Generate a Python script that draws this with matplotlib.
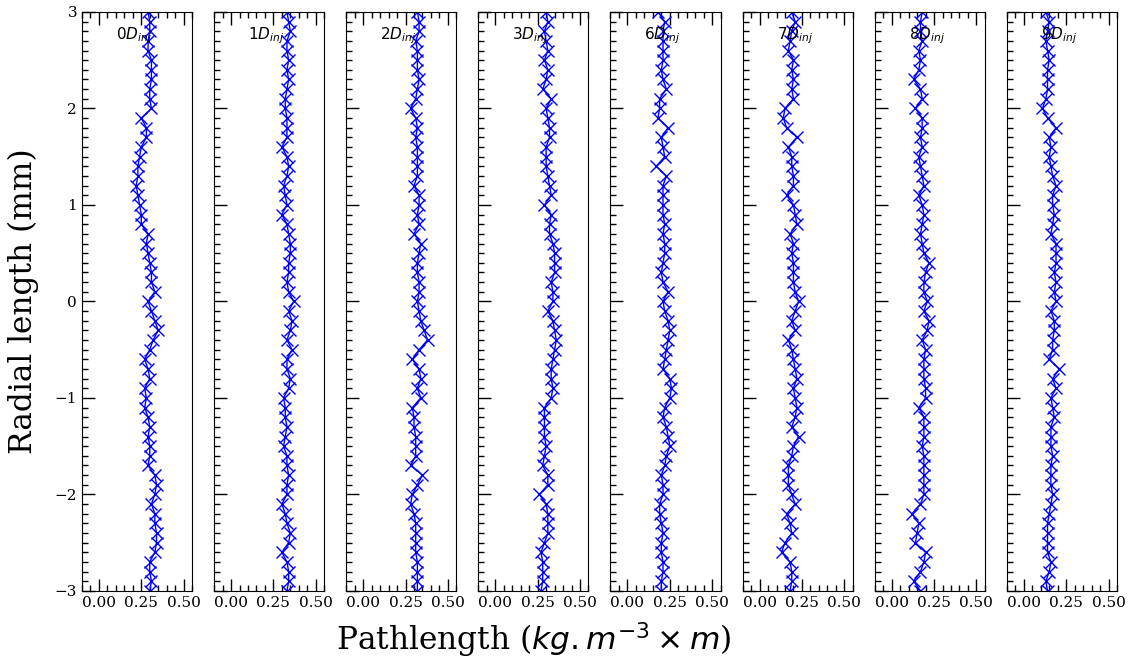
import numpy as np
import matplotlib
matplotlib.use("Agg")
import matplotlib.pyplot as plt
from matplotlib.ticker import MultipleLocator, FormatStrFormatter

radial = np.round(np.arange(3.0, -3.0001, -0.1), 1)

labels = ["0", "1", "2", "3", "6", "7", "8", "9"]

p0 = [0.29, 0.30, 0.30, 0.29, 0.29, 0.31, 0.31, 0.31, 0.30, 0.30, 0.31, 0.25, 0.28, 0.28, 0.25, 0.24,
      0.23, 0.23, 0.22, 0.23, 0.24, 0.25, 0.25, 0.29, 0.28, 0.29, 0.30, 0.31, 0.31, 0.33, 0.29,
      0.31, 0.33, 0.35, 0.32, 0.30, 0.27, 0.29, 0.30, 0.27, 0.28, 0.27, 0.29, 0.30, 0.29, 0.30,
      0.30, 0.29, 0.33, 0.34, 0.33, 0.31, 0.33, 0.33, 0.34, 0.34, 0.33, 0.30, 0.30, 0.31, 0.30]
p1 = [0.33, 0.34, 0.35, 0.33, 0.33, 0.34, 0.33, 0.34, 0.33, 0.32, 0.32, 0.33, 0.33, 0.33, 0.30, 0.33,
      0.34, 0.33, 0.31, 0.32, 0.33, 0.30, 0.33, 0.34, 0.35, 0.35, 0.34, 0.34, 0.33, 0.34, 0.37,
      0.34, 0.36, 0.35, 0.33, 0.36, 0.33, 0.33, 0.35, 0.34, 0.31, 0.32, 0.32, 0.33, 0.32, 0.31,
      0.33, 0.33, 0.34, 0.33, 0.33, 0.30, 0.32, 0.33, 0.35, 0.34, 0.30, 0.33, 0.34, 0.34, 0.33]
p2 = [0.32, 0.33, 0.33, 0.31, 0.32, 0.32, 0.32, 0.33, 0.32, 0.31, 0.28, 0.31, 0.32, 0.31, 0.32, 0.32,
      0.32, 0.32, 0.30, 0.33, 0.33, 0.32, 0.33, 0.30, 0.34, 0.33, 0.32, 0.32, 0.33, 0.33, 0.32,
      0.33, 0.34, 0.36, 0.38, 0.33, 0.29, 0.33, 0.34, 0.32, 0.34, 0.29, 0.30, 0.30, 0.31, 0.31,
      0.31, 0.28, 0.35, 0.32, 0.29, 0.28, 0.30, 0.31, 0.31, 0.31, 0.31, 0.32, 0.32, 0.32, 0.32]
p3 = [0.30, 0.31, 0.29, 0.30, 0.31, 0.29, 0.31, 0.30, 0.28, 0.33, 0.30, 0.31, 0.32, 0.32, 0.30, 0.30,
      0.30, 0.31, 0.32, 0.33, 0.29, 0.33, 0.32, 0.32, 0.34, 0.35, 0.35, 0.35, 0.33, 0.34, 0.34,
      0.31, 0.34, 0.35, 0.36, 0.35, 0.34, 0.33, 0.33, 0.34, 0.33, 0.29, 0.29, 0.29, 0.29, 0.30,
      0.29, 0.28, 0.31, 0.31, 0.26, 0.30, 0.31, 0.31, 0.31, 0.29, 0.27, 0.28, 0.28, 0.28, 0.27]
p6 = [0.18, 0.22, 0.21, 0.21, 0.21, 0.21, 0.20, 0.21, 0.23, 0.19, 0.19, 0.18, 0.24, 0.20, 0.21, 0.22,
      0.17, 0.23, 0.21, 0.21, 0.21, 0.21, 0.22, 0.21, 0.22, 0.22, 0.21, 0.20, 0.21, 0.24, 0.21,
      0.22, 0.24, 0.25, 0.24, 0.23, 0.22, 0.21, 0.25, 0.26, 0.25, 0.22, 0.21, 0.23, 0.24, 0.25,
      0.23, 0.22, 0.20, 0.21, 0.21, 0.19, 0.19, 0.20, 0.21, 0.20, 0.20, 0.21, 0.21, 0.20, 0.20]
p7 = [0.19, 0.21, 0.19, 0.18, 0.17, 0.20, 0.19, 0.20, 0.19, 0.20, 0.15, 0.14, 0.16, 0.22, 0.17, 0.19,
      0.19, 0.20, 0.20, 0.16, 0.20, 0.21, 0.22, 0.18, 0.20, 0.19, 0.20, 0.20, 0.20, 0.21, 0.23,
      0.21, 0.19, 0.21, 0.17, 0.19, 0.20, 0.21, 0.22, 0.20, 0.21, 0.22, 0.21, 0.19, 0.23, 0.20,
      0.19, 0.17, 0.17, 0.17, 0.19, 0.21, 0.16, 0.18, 0.19, 0.15, 0.13, 0.18, 0.19, 0.19, 0.18]
p8 = [0.18, 0.17, 0.17, 0.18, 0.16, 0.17, 0.16, 0.13, 0.17, 0.18, 0.14, 0.18, 0.18, 0.17, 0.18, 0.16,
      0.17, 0.18, 0.19, 0.16, 0.18, 0.19, 0.18, 0.17, 0.18, 0.19, 0.22, 0.20, 0.19, 0.19, 0.21,
      0.19, 0.22, 0.21, 0.18, 0.20, 0.19, 0.19, 0.19, 0.20, 0.20, 0.16, 0.19, 0.19, 0.19, 0.18,
      0.19, 0.19, 0.19, 0.19, 0.19, 0.17, 0.12, 0.16, 0.15, 0.14, 0.20, 0.19, 0.17, 0.13, 0.17]
p9 = [0.13, 0.15, 0.14, 0.13, 0.14, 0.15, 0.14, 0.14, 0.14, 0.13, 0.11, 0.14, 0.19, 0.15, 0.16, 0.15,
      0.16, 0.17, 0.19, 0.17, 0.17, 0.18, 0.17, 0.16, 0.19, 0.19, 0.19, 0.18, 0.19, 0.18, 0.19,
      0.16, 0.18, 0.18, 0.17, 0.17, 0.15, 0.21, 0.17, 0.19, 0.16, 0.17, 0.18, 0.16, 0.16, 0.16,
      0.17, 0.16, 0.16, 0.16, 0.17, 0.16, 0.15, 0.14, 0.14, 0.14, 0.14, 0.16, 0.15, 0.13, 0.14]

series = [p0, p1, p2, p3, p6, p7, p8, p9]

plt.rcParams['font.family'] = 'serif'
plt.rcParams['font.serif'] = ['DejaVu Serif']
plt.rcParams['mathtext.fontset'] = 'dejavusans'

fig, axes = plt.subplots(1, 8, figsize=(11.34, 6.61), dpi=100, sharey=True)
fig.subplots_adjust(left=0.0723, right=0.985, top=0.982, bottom=0.106, wspace=0.2)

for i, (ax, vals, lab) in enumerate(zip(axes, series, labels)):
    ax.plot(vals, radial, color='blue', marker='x', markersize=8, linewidth=1)
    ax.set_xlim(-0.1, 0.55)
    ax.set_ylim(-3, 3)
    ax.set_xticks([0.0, 0.25, 0.5])
    ax.xaxis.set_minor_locator(MultipleLocator(0.05))
    ax.yaxis.set_minor_locator(MultipleLocator(0.1))
    ax.yaxis.set_major_locator(MultipleLocator(1))
    ax.tick_params(which='both', direction='in', top=True, right=False, labelsize=11)
    ax.tick_params(which='major', length=9, width=1)
    ax.tick_params(which='minor', length=4.5, width=1)
    ax.xaxis.set_major_formatter(FormatStrFormatter('%.2f'))
    ax.text(0.1, 2.75, r'$%sD_{inj}$' % lab, fontsize=11, va='center', ha='left')
    if i > 0:
        ax.tick_params(labelleft=False)

axes[0].set_ylabel('Radial length (mm)', fontsize=22.5, labelpad=11)
axes[3].set_xlabel(r'Pathlength ($kg.m^{-3}\times m$)', fontsize=22.5, labelpad=8)

fig.savefig('out.png', dpi=100)
